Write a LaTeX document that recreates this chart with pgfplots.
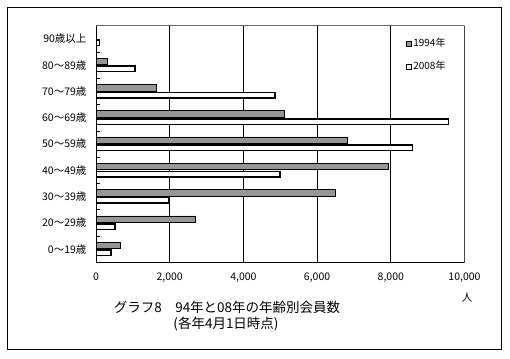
\documentclass[border=0pt]{standalone}
\usepackage{pgfplots}
\pgfplotsset{compat=1.18}
\usepackage{fontspec}
\setmainfont{Noto Sans CJK JP}
\definecolor{bargray}{RGB}{150,150,150}
\begin{document}
\begin{tikzpicture}[x=1pt,y=1pt]
\useasboundingbox[fill=white] (0,0) rectangle (510,358);
\draw[line width=1pt] (7.5,9) rectangle (501.5,350);
\begin{axis}[
  at={(96pt,95.7pt)}, anchor=south west,
  width=368.5pt, height=236.6pt, scale only axis,
  xbar,
  xmin=0, xmax=10000, ymin=-0.5, ymax=8.5,
  scaled x ticks=false,
  xtick={0,2000,4000,6000,8000,10000},
  xticklabels={0,{2,000},{4,000},{6,000},{8,000},{10,000}},
  xtick pos=bottom,
  xmajorgrids, grid style={black, line width=0.7pt},
  major x tick style={draw=none},
  ytick={0,...,8},
  yticklabels={0～19歳,20～29歳,30～39歳,40～49歳,50～59歳,60～69歳,70～79歳,80～89歳,90歳以上},
  ytick pos=left,
  major y tick style={draw=none},
  minor ytick={-0.5,0.5,1.5,2.5,3.5,4.5,5.5,6.5,7.5,8.5},
  minor y tick style={black, line width=0.7pt},
  minor tick length=4pt,
  tick align=inside,
  axis line style={draw=none},
  tick label style={font=\fontsize{10.5}{12}\selectfont},
  xticklabel style={yshift=-7pt},
  yticklabel style={xshift=-6pt},
  legend style={draw=none, fill=none, at={(0.84,0.955)}, anchor=north west,
    font=\fontsize{10}{12}\selectfont, row sep=9pt, cells={anchor=west},
    inner sep=0pt},
  legend image code/.code={\draw[#1, line width=0.6pt] (0pt,-2.5pt) rectangle (5pt,2.5pt);},
]
\addplot[fill=bargray, draw=black, line width=0.5pt, bar width=6.5pt, bar shift=3.8pt]
  coordinates {(660,0) (2705,1) (6494,2) (7932,3) (6820,4) (5110,5) (1637,6) (307,7) (20,8)};
\addlegendentry{1994年}
\addplot[fill=white, draw=black, line width=1.5pt, bar width=5.5pt, bar shift=-3.8pt]
  coordinates {(407,0) (516,1) (1962,2) (4993,3) (8584,4) (9560,5) (4858,6) (1058,7) (90,8)};
\addlegendentry{2008年}
\draw[gray!80!black, line width=0.7pt] (rel axis cs:0,1) -- (rel axis cs:1,1) -- (rel axis cs:1,0);
\draw[black, line width=0.9pt] (rel axis cs:0,1) -- (rel axis cs:0,0) -- (rel axis cs:1,0);
\end{axis}
\node[font=\fontsize{10.5}{12}\selectfont] at (467,60) {人};
\node[font=\fontsize{13.5}{15}\selectfont] at (227,51) {グラフ8　94年と08年の年齢別会員数};
\node[font=\fontsize{13.5}{15}\selectfont] at (226,34) {(各年4月1日時点)};
\end{tikzpicture}
\end{document}
